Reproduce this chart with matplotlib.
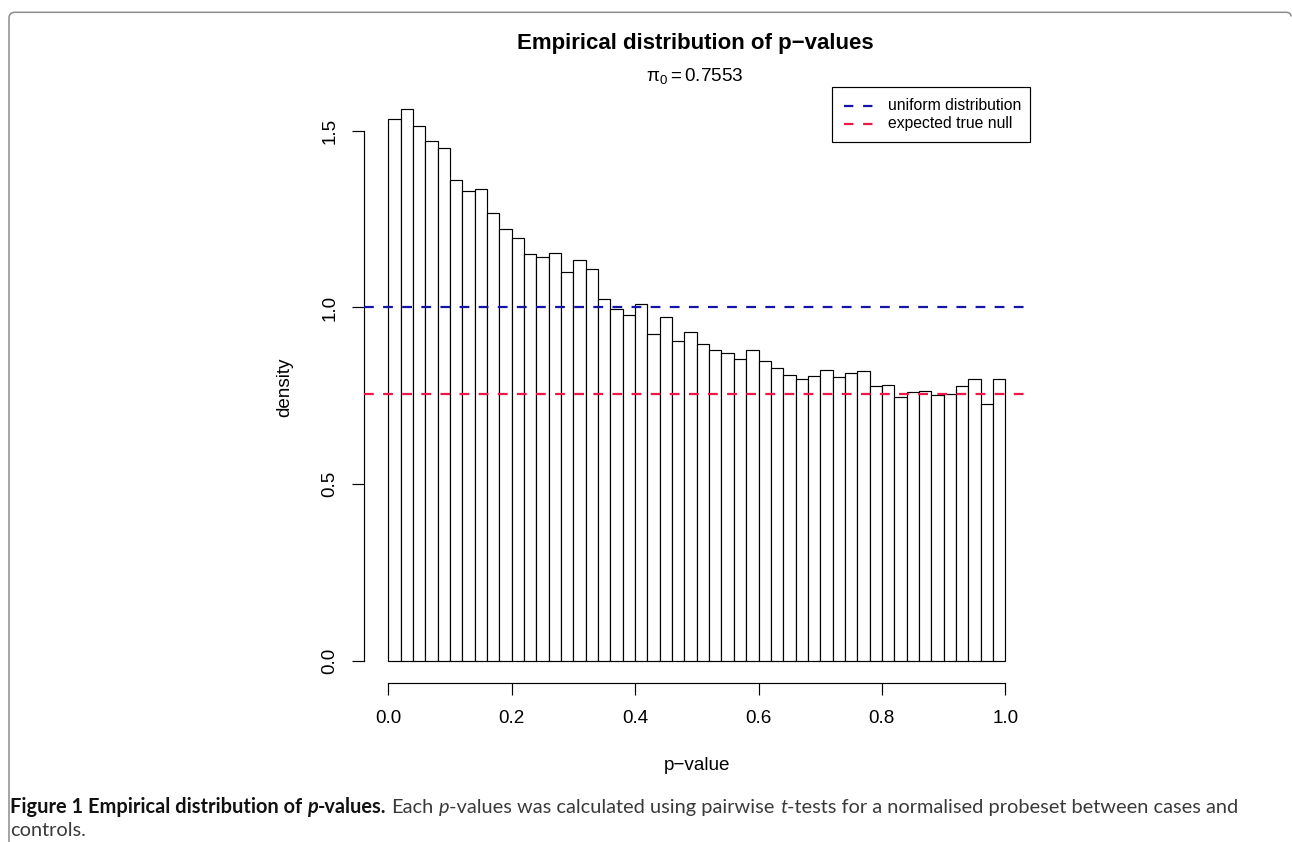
import matplotlib
matplotlib.use('Agg')
import matplotlib.pyplot as plt
import numpy as np
from matplotlib.path import Path
from matplotlib.patches import PathPatch, Rectangle
from matplotlib.lines import Line2D

# ---------------- data ----------------
bin_width = 0.02
density = [1.532, 1.562, 1.512, 1.472, 1.451, 1.361, 1.330, 1.334, 1.266, 1.221,
           1.197, 1.150, 1.143, 1.153, 1.101, 1.135, 1.108, 1.023, 0.995, 0.978,
           1.010, 0.924, 0.973, 0.906, 0.932, 0.898, 0.879, 0.870, 0.855, 0.881,
           0.849, 0.830, 0.810, 0.799, 0.805, 0.823, 0.802, 0.816, 0.819, 0.779,
           0.781, 0.748, 0.762, 0.765, 0.752, 0.754, 0.779, 0.797, 0.728, 0.798]
uniform_level = 1.0
pi0 = 0.7553
xticks = [0.0, 0.2, 0.4, 0.6, 0.8, 1.0]
xticklabels = ["0.0", "0.2", "0.4", "0.6", "0.8", "1.0"]
yticks = [0.0, 0.5, 1.0, 1.5]
yticklabels = ["0.0", "0.5", "1.0", "1.5"]
legend_labels = ["uniform distribution", "expected true null"]
title = "Empirical distribution of p\u2212values"
subtitle = r"$\mathrm{\pi}_0 = 0.7553$"
xlabel = "p\u2212value"
ylabel = "density"

BLUE = '#1414a8'
RED = '#ee1848'

# ---------------- figure ----------------
W, H = 1292, 842
plt.rcParams['font.family'] = ['Liberation Sans', 'DejaVu Sans']
plt.rcParams['mathtext.fontset'] = 'custom'
plt.rcParams['mathtext.rm'] = 'Liberation Sans'
plt.rcParams['mathtext.it'] = 'Liberation Sans:italic'
plt.rcParams['mathtext.bf'] = 'Liberation Sans:bold'

fig = plt.figure(figsize=(W / 100, H / 100), dpi=100)
fig.patch.set_facecolor('white')

def fx(px):
    return px / W

def fy(py):
    return 1 - py / H

ax = fig.add_axes([fx(363.6), fy(683.1), (1030.0 - 363.6) / W, (683.1 - 86.7) / H])
ax.set_facecolor('none')

lefts = np.arange(len(density)) * bin_width
ax.bar(lefts, density, width=bin_width, align='edge', facecolor='white',
       edgecolor='black', linewidth=0.85, zorder=2)

ax.set_xlim(-0.04, 1.04)
ax.set_ylim(-0.0625, 1.6245)
for s in ['top', 'right']:
    ax.spines[s].set_visible(False)
ax.spines['bottom'].set_bounds(0, 1)
ax.spines['left'].set_bounds(0, 1.5)
for s in ['bottom', 'left']:
    ax.spines[s].set_linewidth(0.85)

ax.set_xticks(xticks)
ax.set_xticklabels(xticklabels)
ax.set_yticks(yticks)
ax.set_yticklabels(yticklabels, rotation=90, va='center')
ax.tick_params(axis='both', length=8.6, width=0.85, labelsize=13.6, color='black')
ax.tick_params(axis='x', pad=10.5)
ax.tick_params(axis='y', pad=9.5)

dash = (0, (4.4, 4.2))
ax.axhline(uniform_level, color=BLUE, lw=1.6, ls=dash, zorder=3)
ax.axhline(pi0, color=RED, lw=1.6, ls=dash, zorder=3)

# legend (R style box)
def dx(px):
    return (px - 388.3) / 617.0

def dy(py):
    return (661.0 - py) / 353.5

ax.add_patch(Rectangle((dx(831.5), dy(141.7)), dx(1029.5) - dx(831.5), dy(86.7) - dy(141.7),
                       facecolor='white', edgecolor='black', linewidth=0.85, zorder=4,
                       clip_on=False))
for i, (lab, col) in enumerate(zip(legend_labels, [BLUE, RED])):
    yl = [105.7, 124.0][i]
    ax.add_line(Line2D([dx(844), dx(873.5)], [dy(yl), dy(yl)], color=col, lw=1.6,
                       ls=(0, (4.2, 4.4)), zorder=5, clip_on=False))
    ax.text(dx(888), dy(yl + 4.2), lab, fontsize=11.3, ha='left', va='baseline',
            zorder=5, clip_on=False)

# titles and axis labels
fig.text(fx(695), fy(48.5), title, fontsize=16, fontweight='bold', ha='center', va='baseline')
fig.text(fx(695), fy(81), subtitle, fontsize=13.6, ha='center', va='baseline')
fig.text(fx(696.8), fy(766), xlabel, fontsize=13.6, ha='center', va='center')
fig.text(fx(285), fy(387), ylabel, fontsize=13.6, ha='center', va='center', rotation=90)

# outer frame with rounded corners (right side runs off the image)
verts = [(9, 850), (9, 18), (9, 12.3), (15, 12.3), (1286, 12.3), (1291, 12.3), (1291, 16.5)]
codes = [Path.MOVETO, Path.LINETO, Path.CURVE3, Path.CURVE3, Path.LINETO,
         Path.CURVE3, Path.CURVE3]
verts_f = [(fx(x), fy(y)) for x, y in verts]
fig.patches.append(PathPatch(Path(verts_f, codes), transform=fig.transFigure,
                             fill=False, edgecolor='#8c8c8c', linewidth=1.1))

# caption with mixed styles
CAP_FONT = ['Lato', 'Open Sans', 'DejaVu Sans']
renderer = fig.canvas.get_renderer()

def text_width(s, size, **kw):
    t = fig.text(0, 0, s, fontsize=size, family=CAP_FONT, **kw)
    w = t.get_window_extent(renderer=renderer).width
    t.remove()
    return w

def place_caption(size):
    bold = dict(fontweight='bold', color='#111111')
    boldit = dict(fontweight='bold', fontstyle='italic', color='#111111')
    reg = dict(color='#3a3a3a')
    it = dict(fontstyle='italic', color='#3a3a3a')
    sp_b = text_width('x x', size, **bold) - text_width('xx', size, **bold)
    sp_r = text_width('x x', size, **reg) - text_width('xx', size, **reg)
    runs = [("Figure 1 Empirical distribution of", bold, sp_b),
            ("p", boldit, 0.0),
            ("-values.", bold, sp_r),
            ("Each", reg, sp_r),
            ("p", it, 0.0),
            ("-values was calculated using pairwise", reg, sp_r),
            ("t", it, 0.0),
            ("-tests for a normalised probeset between cases and", reg, 0.0)]
    x = 10.0
    arts = []
    for s, kw, gap in runs:
        t = fig.text(fx(x), fy(813), s, fontsize=size, family=CAP_FONT,
                     ha='left', va='baseline', **kw)
        arts.append(t)
        bb = t.get_window_extent(renderer=renderer)
        x = bb.x1 + gap
    return arts, x

size = 13.0
arts, xend = place_caption(size)
for a in arts:
    a.remove()
size = size * (1241.0 - 10.0) / (xend - 10.0)
arts, xend = place_caption(size)
fig.text(fx(10), fy(836), "controls.", fontsize=size, family=CAP_FONT,
         ha='left', va='baseline', color='#3a3a3a')

fig.savefig('out.png', dpi=100, facecolor='white')
